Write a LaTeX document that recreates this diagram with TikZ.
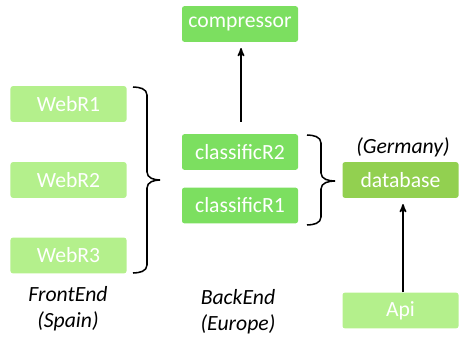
\documentclass[tikz,border=0pt]{standalone}
\usepackage{fontspec}
\setmainfont{Carlito}
\usetikzlibrary{arrows,calc,positioning}

\definecolor{webgreen}{HTML}{B4F08C}
\definecolor{backgreen}{HTML}{7CDF60}
\definecolor{dbgreen}{HTML}{92D050}

\begin{document}
\begin{tikzpicture}
[
	              x = 0.03cm,
	              y = -0.03cm,
	           ->, >= stealth',
	    server/.style = { draw=none, rounded corners=2pt, text=white, minimum width=3.48cm,
	                      minimum height=1.07cm, inner sep=0pt, font=\fontsize{18.5}{20}\selectfont },
	  frontbox/.style = { server, fill=webgreen },
	   backbox/.style = { server, fill=backgreen },
	     dbbox/.style = { server, fill=dbgreen },
	  caption/.style = { draw=none, fill=none, align=center, font=\fontsize{18.5}{22}\selectfont\itshape },
	   bracket/.style = { -, draw=black, line width=1.3pt }
]

    \useasboundingbox (0,0) rectangle (459,339);

    \node (WebR1)        at ( 68.5,104) [frontbox]  {WebR1};
    \node (WebR2)        at ( 68.5,180) [frontbox]  {WebR2};
    \node (WebR3)        at ( 68.5,255.5) [frontbox]  {WebR3};

    \node (Compressor)   at (240, 24) [backbox]   {compressor};
    \node (ClassificR2)  at (240,152) [backbox]   {classificR2};
    \node (ClassificR1)  at (240,205.5) [backbox]   {classificR1};

    \node (Database)     at (400.5,180) [dbbox]     {database};
    \node (Api)          at (400.5,310.5) [frontbox]  {Api};

    \node (GermanyLabel) at (403,147) [caption]   {(Germany)};
    \node (FrontLabel)   at ( 68,309) [caption]   {FrontEnd\\(Spain)};
    \node (BackLabel)    at (238,312) [caption]   {BackEnd\\(Europe)};

    \coordinate (FrontTip) at (160,180);
    \coordinate (BackTip)  at (335,181);

    % braces
    \draw[bracket] (133,87) to[out=0,in=90] (147,95) -- (147,172)
        to[out=-90,in=180] (FrontTip) to[out=180,in=90] (147,188) -- (147,265)
        to[out=-90,in=0] (133,273);
    \draw[bracket] (307,135) to[out=0,in=90] (321,143) -- (321,173)
        to[out=-90,in=180] (BackTip) to[out=180,in=90] (321,189) -- (321,217)
        to[out=-90,in=0] (307,225);

    \draw[line width=1.4pt] ($(ClassificR2.north)+(1,-12)$) -- ($(Compressor.south)+(1,6)$);
    \draw[line width=1.4pt] ($(Api.north)+(2.5,0)$) -- ($(Database.south)+(2.5,6)$);

\end{tikzpicture}
\end{document}
